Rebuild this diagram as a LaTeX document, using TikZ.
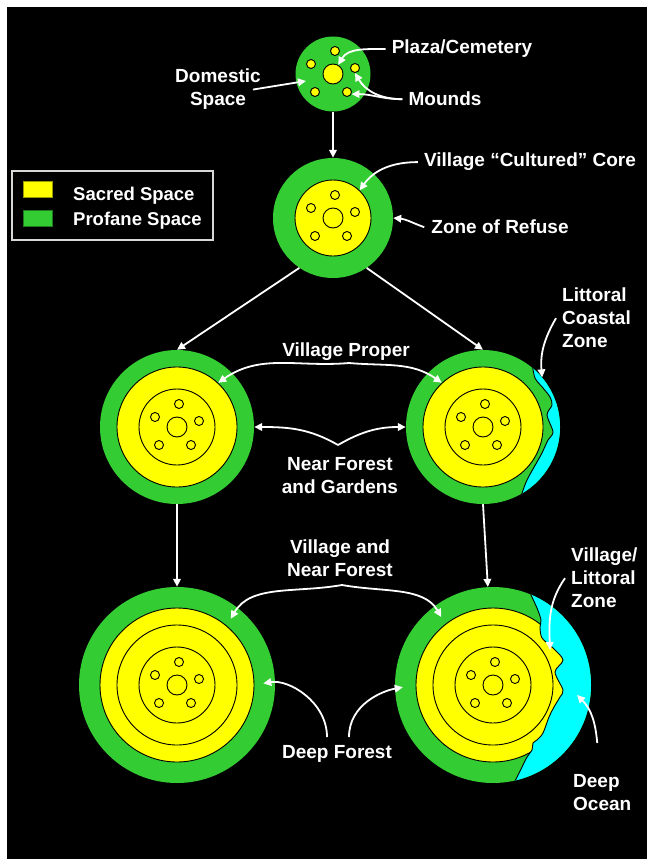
\documentclass[tikz,border=0pt]{standalone}
\usepackage{fontspec}
\setmainfont{Liberation Sans}
\usepackage{tikz}
\usetikzlibrary{calc,arrows.meta}
\definecolor{profane}{RGB}{51,204,51}
\definecolor{sacred}{RGB}{255,255,0}
\definecolor{ocean}{RGB}{0,255,255}
\definecolor{keyline}{RGB}{215,215,215}

\tikzset{
  profanezone/.style={circle, fill=profane, inner sep=0pt, minimum size=#1},
  sacredzone/.style={circle, fill=sacred, draw=black, line width=0.9pt, inner sep=0pt, minimum size=#1},
  ringline/.style={circle, draw=black, line width=0.9pt, inner sep=0pt, minimum size=#1},
  mound/.style={circle, fill=sacred, draw=black, line width=0.9pt, inner sep=0pt, minimum size=9pt},
  plazaring/.style={mound, minimum size=20pt},
  keybox/.style={line width=0.8pt, minimum width=29pt, minimum height=16pt, inner sep=0pt},
  pointer/.style={draw=white, line width=1.8pt, -{Triangle[length=8pt,width=7.5pt]}},
  lbl/.style={text=white, font=\bfseries\fontsize{19}{23}\selectfont,
    inner xsep=6pt, inner ysep=0pt, align=center},
}

% plaza in the middle, five mounds round it
\newcommand{\putmounds}[1]{%
  \node[plazaring] (#1c) at (#1) {};
  \foreach \dx/\dy/\k in {2/-23/1, -22/-10/2, 22/-6/3, -18/18/4, 14/18/5}
    \node[mound] (#1m\k) at ($(#1)+(\dx,\dy)$) {};
}

\begin{document}
\begin{tikzpicture}[x=1pt,y=-1pt]
  % Page and backdrop
  \useasboundingbox (0,0) rectangle (647,859);
  \fill[white] (0,0) rectangle (647,859);
  \fill[black] (7,7) rectangle (647,859);

  % Hamlet
  \node[profanezone=75pt] (hamlet) at (333,74) {};
  \putmounds{hamlet}

  % Village core
  \node[profanezone=120pt] (core) at (333,218) {};
  \node[sacredzone=76pt] (coreyard) at (core) {};
  \putmounds{core}

  % Second row
  \foreach \v/\x in {r2a/177, r2b/483}{
    \node[profanezone=154pt] (\v) at (\x,427) {};
    \node[sacredzone=120pt] (\v-yard) at (\v) {};
    \node[ringline=76pt] at (\v) {};
    \putmounds{\v}
  }
  \begin{scope}[shift={(r2b.center)}]
    \clip (0,0) circle[radius=77pt];
    \draw[fill=ocean, line width=0.9pt] plot[smooth] coordinates {
      (49,-64) (52,-49) (60,-39) (67,-30) (69,-22) (64,-12) (70,5)
      (65,13) (59,26) (54,35) (44,53) (38,69)} -- (100,69) -- (100,-64) -- cycle;
  \end{scope}

  % Third row
  \foreach \v/\x in {r3a/177, r3b/493}{
    \node[profanezone=196pt] (\v) at (\x,685) {};
    \node[sacredzone=154pt] (\v-yard) at (\v) {};
    \node[ringline=120pt] at (\v) {};
    \node[ringline=76pt] at (\v) {};
    \putmounds{\v}
  }
  \begin{scope}[shift={(r3b.center)}]
    \clip (0,0) circle[radius=98pt];
    \draw[fill=ocean, line width=0.9pt] plot[smooth] coordinates {
      (36,-94) (44,-77) (48,-65) (47,-58) (49,-47) (60,-37) (70,-25)
      (62,-13) (70,5) (67,12) (61,22) (56,32) (50,48) (44,55) (40,58)
      (39,65) (34,72) (29,82) (21,98)} -- (130,98) -- (130,-94) -- cycle;
  \end{scope}

  % Legend
  \node[draw=keyline, line width=1.2pt, minimum width=201pt, minimum height=69pt, inner sep=0pt] (legend) at (112.5,205.5) {};
  \node[keybox, fill=sacred, draw=sacred!60!black] (sacredkey) at (37.5,189) {};
  \node[keybox, fill=profane, draw=profane!60!black] (profanekey) at (37.5,218.5) {};
  \node[lbl, font=\bfseries\fontsize{18.5}{22}\selectfont, anchor=base west, inner xsep=0pt] (sacredlbl) at (73,200) {Sacred Space};
  \node[lbl, font=\bfseries\fontsize{18.5}{22}\selectfont, anchor=base west, inner xsep=0pt] (profanelbl) at (73,225) {Profane Space};

  % Labels
  \node[lbl, anchor=north] (plazalbl) at (462,40) {Plaza/Cemetery};
  \node[lbl, anchor=north] (domesticlbl) at (218,69) {Domestic\\Space};
  \node[lbl, anchor=north] (moundslbl) at (445,92) {Mounds};
  \node[lbl, anchor=north] (corelbl) at (530,153) {Village “Cultured” Core};
  \node[lbl, anchor=north] (refuselbl) at (500,220) {Zone of Refuse};
  \node[lbl, anchor=north] (properlbl) at (346,343) {Village Proper};
  \node[lbl, anchor=north] (nearlbl) at (340,457) {Near Forest\\and Gardens};
  \node[lbl, anchor=north west, align=left] (coastlbl) at (556,288) {Littoral\\Coastal\\Zone};
  \node[lbl, anchor=north] (villagenearlbl) at (340,540) {Village and\\Near Forest};
  \node[lbl, anchor=north] (deepforestlbl) at (337,745) {Deep Forest};
  \node[lbl, anchor=north west, align=left] (shorelbl) at (565,548) {Village/\\Littoral\\Zone};
  \node[lbl, anchor=north west, align=left] (oceanlbl) at (567,774) {Deep\\Ocean};

  % Flow between the stages
  \draw[pointer] (hamlet.south) -- (core.north);
  \draw[pointer] (core.-124) -- (r2a.north);
  \draw[pointer] (core.-56) -- (r2b.north);
  \draw[pointer] (r2a.south) -- (r3a.north);
  \draw[pointer] (r2b.south) -- (r3b.93);

  % Callouts, top
  \coordinate (home) at ($(hamlet)+(-27,7)$);
  \draw[pointer] (plazalbl.west) to[out=180,in=60] (hamletc.60);
  \draw[pointer] ([xshift=-14pt]domesticlbl.east) -- (home);
  \draw[pointer] (moundslbl.west) to[out=180,in=-60] (hamletm3.south);
  \draw[pointer] (moundslbl.west) to[out=180,in=0] (hamletm5.-25);
  \draw[pointer] (corelbl.west) to[out=180,in=55] (coreyard.46);
  \draw[pointer] ([xshift=-1pt]refuselbl.west) to[out=160,in=-5] (core.east);

  % Callouts, second row
  \coordinate (properfork) at (349,363);
  \coordinate (nearfork) at (338,445);
  \draw[pointer] (properfork) to[out=185,in=35] (r2a-yard.47);
  \draw[pointer] (properfork) to[out=-5,in=145] (r2b-yard.133);
  \draw[pointer] (nearfork) to[out=150,in=0] (r2a.east);
  \draw[pointer] (nearfork) to[out=30,in=180] (r2b.west);
  \draw[pointer] (coastlbl.west) to[out=240,in=95] (r2b.40);

  % Callouts, third row
  \coordinate (villagefork) at (342,585);
  \coordinate (shorespot) at ($(r3b)+(57,-35)$);
  \coordinate (oceanspot) at ($(r3b)+(84,10)$);
  \draw[pointer, shorten >=8pt] (villagefork) to[out=190,in=60] (r3a-yard.50);
  \draw[pointer, shorten >=8pt] (villagefork) to[out=-10,in=120] (r3b-yard.128);
  \draw[pointer, shorten >=9pt] ([xshift=-10pt,yshift=8pt]deepforestlbl.north) to[out=90,in=10] (r3a-yard.east);
  \draw[pointer, shorten >=13pt] ([xshift=12pt,yshift=8pt]deepforestlbl.north) to[out=90,in=190] (r3b-yard.west);
  \draw[pointer] (shorelbl.west) to[out=235,in=92] (shorespot);
  \draw[pointer] ([xshift=-5pt,yshift=31pt]oceanlbl.north) to[out=95,in=-45] (oceanspot);
\end{tikzpicture}
\end{document}
